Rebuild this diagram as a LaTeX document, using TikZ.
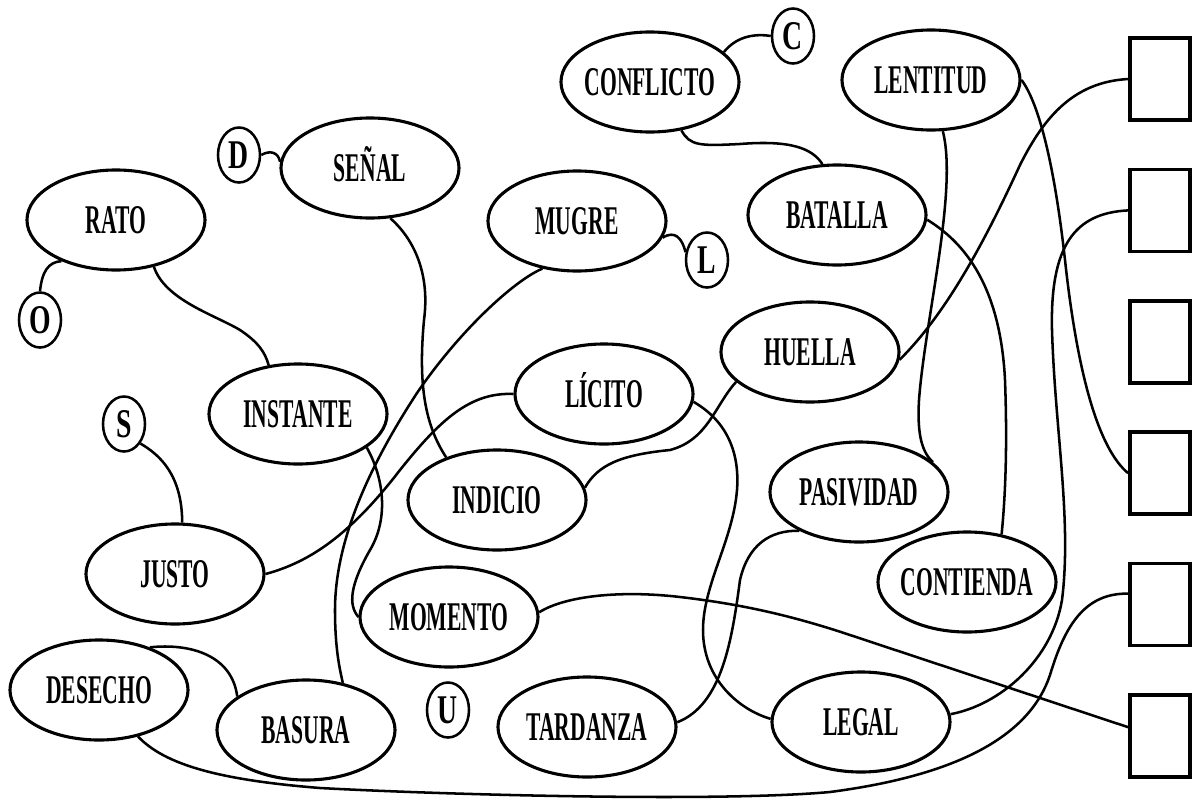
\documentclass[tikz,border=0pt]{standalone}
\usepackage{fontspec}
\setmainfont{Liberation Serif}
\newfontfamily\wordfont[FakeStretch=0.53]{Liberation Serif}
\newfontfamily\letterfont[FakeStretch=0.68]{Liberation Serif}
\usepackage{tikz}
\usetikzlibrary{shapes.geometric}

% keep the ellipse size independent of the word width
\newcommand{\term}[1]{\makebox[0pt]{#1}}

\begin{document}
\begin{tikzpicture}[
    x=0.025cm, y=-0.025cm,
    word/.style={draw, ellipse, line width=2.2pt, minimum width=4.45cm, minimum height=2.5cm,
      inner sep=0pt, text height=19pt, text depth=0pt,
      font=\wordfont\bfseries\fontsize{29}{30}\selectfont},
    letter/.style={draw, ellipse, line width=1.8pt, minimum width=1.05cm, minimum height=1.375cm,
      inner sep=0pt, font=\letterfont\bfseries\fontsize{29}{30}\selectfont},
    answer/.style={draw, rectangle, line width=2.6pt, minimum width=1.5cm, minimum height=2.05cm},
    link/.style={line width=1.8pt}
]
  \useasboundingbox (0,0) rectangle (1192,802);

  % Words
  \node[word] (conflicto) at (650,82) {\term{CONFLICTO}};
  \node[word] (lentitud) at (931,80) {\term{LENTITUD}};
  \node[word] (senal) at (370,168) {\term{SEÑAL}};
  \node[word] (rato) at (116,220) {\term{RATO}};
  \node[word] (mugre) at (577,221) {\term{MUGRE}};
  \node[word] (batalla) at (837,215) {\term{BATALLA}};
  \node[word] (huella) at (810,352) {\term{HUELLA}};
  \node[word] (licito) at (604,394) {\term{LÍCITO}};
  \node[word] (instante) at (298,414) {\term{INSTANTE}};
  \node[word] (indicio) at (497,500) {\term{INDICIO}};
  \node[word] (pasividad) at (859,492) {\term{PASIVIDAD}};
  \node[word] (justo) at (175,574) {\term{JUSTO}};
  \node[word] (contienda) at (967,582) {\term{CONTIENDA}};
  \node[word] (momento) at (449,617) {\term{MOMENTO}};
  \node[word] (desecho) at (99,690) {\term{DESECHO}};
  \node[word] (basura) at (306,730) {\term{BASURA}};
  \node[word] (tardanza) at (587,727) {\term{TARDANZA}};
  \node[word] (legal) at (861,722) {\term{LEGAL}};

  % Letters
  \node[letter] (c) at (793,36) {C};
  \node[letter] (d) at (239,155) {D};
  \node[letter] (l) at (707,260) {L};
  \node[letter] (o) at (40,320) {O};
  \node[letter] (s) at (124,424) {S};
  \node[letter] (u) at (448,710) {U};

  % Answer slots
  \foreach \i in {1,...,6}
    \node[answer] (slot\i) at (1160,{79+131.4*(\i-1)}) {};

  % Letters to words
  \draw[link] (conflicto.22) .. controls (735,38) and (752,33) .. (c.west);
  \draw[link] (d.east) .. controls (270,150) and (278,152) .. (senal.176);
  \draw[link] (mugre.-11) .. controls (675,230) and (682,238) .. (l.160);
  \draw[link] (o.north) .. controls (42,272) and (48,262) .. (rato.-143);
  \draw[link] (s.-50) .. controls (160,455) and (182,475) .. (justo.82);

  % Words to words
  \draw[link] (conflicto.-57) .. controls (690,146) and (700,146) .. (740,144)
    .. controls (790,140) and (812,148) .. (batalla.106);
  \draw[link] (rato.-51) .. controls (165,300) and (215,315) .. (240,330)
    .. controls (258,342) and (265,352) .. (instante.121);
  \draw[link] (senal.-68) .. controls (415,240) and (430,275) .. (424,320)
    .. controls (418,385) and (425,425) .. (indicio.140);
  \draw[link] (mugre.-126) .. controls (515,280) and (460,330) .. (417,393)
    .. controls (370,465) and (335,540) .. (335,610)
    .. controls (335,650) and (340,670) .. (basura.52);
  \draw[link] (licito.west) .. controls (470,392) and (440,420) .. (400,470)
    .. controls (350,535) and (310,562) .. (justo.east);
  \draw[link] (instante.-26) .. controls (385,480) and (388,520) .. (370,550)
    .. controls (350,585) and (348,605) .. (momento.west);
  \draw[link] (huella.-158) .. controls (715,405) and (708,440) .. (670,450)
    .. controls (620,455) and (598,465) .. (indicio.8);
  \draw[link] (licito.-5) .. controls (725,420) and (740,450) .. (737,490)
    .. controls (733,540) and (703,585) .. (703,630)
    .. controls (703,680) and (740,710) .. (legal.178);
  \draw[link] (pasividad.-147) .. controls (770,530) and (748,545) .. (740,580)
    .. controls (732,640) and (722,705) .. (tardanza.3);
  \draw[link] (lentitud.-77) .. controls (958,190) and (925,320) .. (919,400)
    .. controls (917,435) and (922,452) .. (pasividad.22);
  \draw[link] (batalla.-3) .. controls (960,240) and (1000,280) .. (1005,380)
    .. controls (1008,460) and (1004,510) .. (contienda.54);
  \draw[link] (desecho.40) .. controls (190,643) and (232,655) .. (basura.154);

  % Words to slots
  \draw[link] (slot1.west) .. controls (1075,82) and (1045,115) .. (1020,165)
    .. controls (990,230) and (950,310) .. (huella.-5);
  \draw[link] (slot2.west) .. controls (1075,213) and (1050,245) .. (1052,330)
    .. controls (1055,430) and (1072,520) .. (1062,600)
    .. controls (1052,660) and (1000,705) .. (legal.5);
  \draw[link] (lentitud.east) .. controls (1040,105) and (1055,170) .. (1065,260)
    .. controls (1078,380) and (1100,450) .. (slot4.west);
  \draw[link] ([yshift=0.275cm]slot5.west) .. controls (1085,593) and (1065,625) .. (1050,675)
    .. controls (1030,735) and (960,775) .. (830,792)
    .. controls (720,802) and (450,795) .. (320,788)
    .. controls (220,780) and (165,765) .. (desecho.-50);
  \draw[link] (momento.3) .. controls (565,596) and (620,590) .. (680,597)
    .. controls (740,604) and (790,615) .. (850,635) -- ([yshift=0.22cm]slot6.west);
\end{tikzpicture}
\end{document}
